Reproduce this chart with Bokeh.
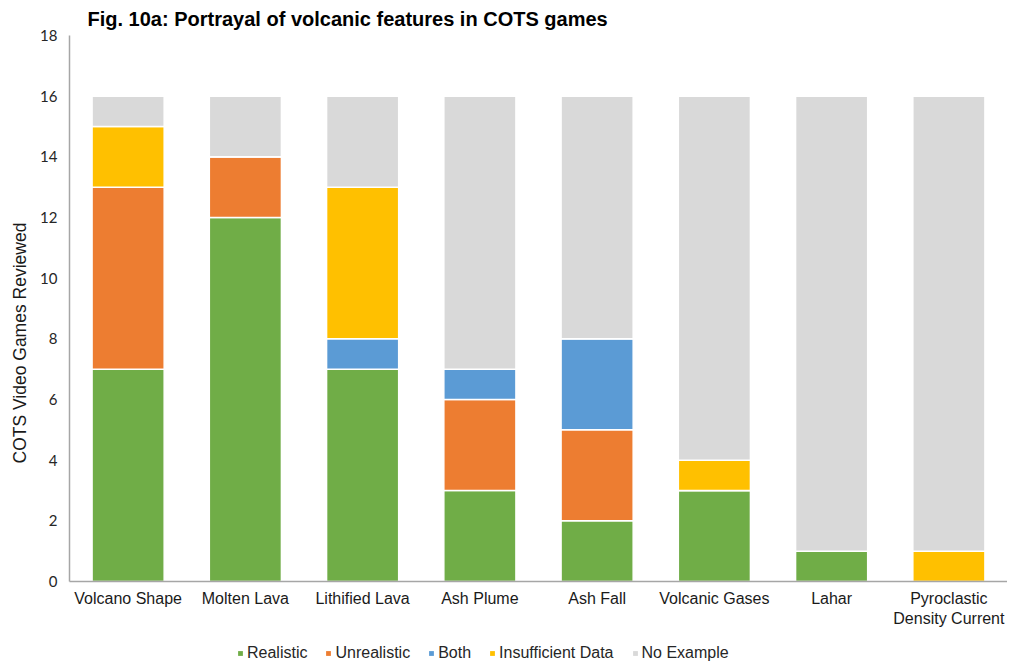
from bokeh.plotting import figure
from bokeh.models import Legend, LegendItem, Title, FixedTicker, Range1d
from bokeh.layouts import column
from bokeh.embed import file_html
from bokeh.resources import INLINE

categories = ["Volcano Shape", "Molten Lava", "Lithified Lava", "Ash Plume",
              "Ash Fall", "Volcanic Gases", "Lahar", "Pyroclastic\nDensity Current"]
realistic = [7, 12, 7, 3, 2, 3, 1, 0]
unrealistic = [6, 2, 0, 3, 3, 0, 0, 0]
both = [0, 0, 1, 1, 3, 0, 0, 0]
insufficient = [2, 0, 5, 0, 0, 1, 0, 1]
no_example = [1, 2, 3, 9, 8, 12, 15, 15]
series_names = ["Realistic", "Unrealistic", "Both", "Insufficient Data", "No Example"]
series_keys = ["realistic", "unrealistic", "both", "insufficient", "no_example"]
colors = ["#70AD47", "#ED7D31", "#5B9BD5", "#FFC000", "#D9D9D9"]
y_ticks = [0, 2, 4, 6, 8, 10, 12, 14, 16, 18]

data = dict(cat=categories, realistic=realistic, unrealistic=unrealistic,
            both=both, insufficient=insufficient, no_example=no_example)

p = figure(x_range=categories, frame_width=938, frame_height=546,
           output_backend="svg", toolbar_location=None,
           min_border_left=61, min_border_right=0,
           min_border_top=28, min_border_bottom=50)
p.y_range = Range1d(0, 18)
p.x_range.range_padding = 0

renderers = p.vbar_stack(series_keys, x="cat", width=0.615, color=colors,
                         line_color="white", line_width=1.5, source=data)

p.title = Title(text="Fig. 10a: Portrayal of volcanic features in COTS games",
                text_font="Liberation Sans", text_font_style="bold",
                text_font_size="20px", text_color="#000000", align="left",
                offset=18, standoff=11)

p.xgrid.grid_line_color = None
p.ygrid.grid_line_color = None
p.outline_line_color = None

yax = p.yaxis[0]
yax.ticker = FixedTicker(ticks=y_ticks)
yax.major_tick_line_color = None
yax.minor_tick_line_color = None
yax.major_tick_out = 0
yax.major_tick_in = 0
yax.minor_tick_out = 0
yax.axis_line_color = "#A6A6A6"
yax.axis_line_width = 1.5
yax.major_label_text_font = "Lato"
yax.major_label_text_font_size = "15px"
yax.major_label_text_color = "#262626"
yax.major_label_standoff = 12

ylab = Title(text="COTS Video Games Reviewed", text_font="Liberation Sans",
             text_font_style="normal", text_font_size="17.5px", text_color="#1a1a1a",
             align="left", offset=118, standoff=15)
p.add_layout(ylab, "left")

xax = p.xaxis[0]
xax.major_tick_line_color = None
xax.minor_tick_line_color = None
xax.major_tick_out = 0
xax.major_tick_in = 0
xax.minor_tick_out = 0
xax.axis_line_color = "#A6A6A6"
xax.axis_line_width = 1.5
xax.major_label_text_font = "Liberation Sans"
xax.major_label_text_font_size = "16px"
xax.major_label_text_color = "#1a1a1a"
xax.major_label_standoff = 8

# legend strip: a second, axis-less figure; its stacked bars (same data) lie
# outside its visible y-range, so only the legend keys show
p2 = figure(x_range=categories, y_range=Range1d(100, 101), width=999, height=31,
            output_backend="svg", toolbar_location=None,
            min_border_left=0, min_border_right=0, min_border_top=0,
            min_border_bottom=0, x_axis_type=None, y_axis_type=None)
p2.xgrid.grid_line_color = None
p2.ygrid.grid_line_color = None
p2.outline_line_color = None
keys = p2.vbar_stack(series_keys, x="cat", width=0.615, color=colors,
                     line_color=None, source=data)

items = [LegendItem(label=n, renderers=[r]) for n, r in zip(series_names, keys)]
legend = Legend(items=items, orientation="horizontal", location=(168, 0),
                label_text_font="Liberation Sans", label_text_font_size="16px",
                label_text_color="#262626", glyph_width=6, glyph_height=6,
                spacing=18, label_standoff=4, border_line_color=None,
                background_fill_alpha=0, padding=0, margin=0)
p2.add_layout(legend, "center")

open("out.html", "w").write(file_html(column(p, p2, spacing=0), INLINE))
